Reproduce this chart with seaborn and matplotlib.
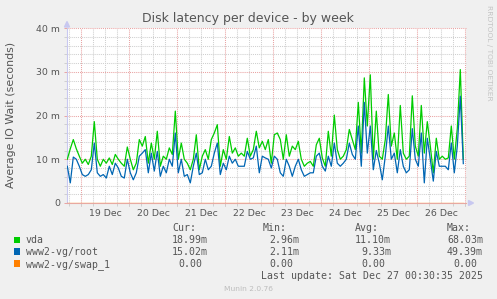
import numpy as np
import pandas as pd
import matplotlib
matplotlib.use("Agg")
import matplotlib.pyplot as plt
import matplotlib.dates as mdates
from matplotlib.patches import Rectangle, Polygon
import seaborn as sns

# ---------------- data ----------------
start = pd.Timestamp("2025-12-18 17:00")
end_view = pd.Timestamp("2025-12-27 00:30")

vda = [10.0, 12.4, 14.5, 12.4, 10.7, 9.1, 10.0, 8.8, 10.7, 18.6, 10.0, 8.4, 10.0, 9.1, 10.3, 8.8, 11.1, 10.0, 9.1,
       8.4, 12.8, 10.0, 7.6, 9.1, 14.5, 13.0, 15.2, 9.1, 13.7, 10.0, 16.4, 8.4, 10.7, 10.0, 12.6, 11.1, 21.0, 10.0,
       13.7, 10.0, 9.1, 7.6, 10.0, 15.6, 7.6, 10.7, 12.2, 10.0, 14.5, 16.0, 17.9, 8.4, 12.2, 10.0, 15.2, 11.4, 12.6, 10.7,
       11.4, 10.7, 14.8, 10.7, 12.2, 16.4, 12.6, 14.1, 12.2, 14.5, 9.1, 15.6, 16.0, 14.5, 10.0, 15.6, 10.7, 13.0, 12.2,
       14.1, 10.0, 8.4, 9.1, 9.5, 8.4, 13.3, 14.8, 10.3, 8.4, 16.4, 10.7, 20.1, 12.2, 10.0, 10.7, 12.2, 16.8, 14.5,
       12.2, 23.0, 11.4, 28.6, 17.6, 29.3, 10.0, 21.0, 10.7, 10.0, 14.5, 24.8, 13.0, 16.0, 10.0, 22.3, 11.4, 10.0, 10.7, 24.5,
       13.0, 10.7, 22.3, 11.4, 18.6, 13.0, 6.9, 14.8, 10.0, 10.7, 10.0, 10.3, 17.6, 10.0, 17.0, 30.5, 10.0]

root = [8.4, 4.6, 10.5, 10.0, 8.4, 6.5, 6.1, 6.5, 7.6, 13.7, 6.9, 6.1, 6.5, 5.7, 8.4, 6.5, 9.1, 8.0, 6.1,
        5.7, 10.0, 6.9, 5.3, 6.9, 10.7, 11.4, 12.2, 6.9, 11.4, 7.3, 11.8, 6.1, 8.4, 6.9, 10.0, 8.4, 16.0, 6.9,
        10.0, 6.1, 6.5, 4.6, 8.4, 11.4, 6.5, 6.9, 10.0, 7.6, 8.4, 11.4, 13.7, 6.5, 9.1, 7.6, 10.7, 9.1, 10.0, 8.4,
        8.4, 8.4, 11.8, 10.0, 10.3, 13.0, 6.9, 10.7, 10.3, 10.0, 8.0, 10.7, 10.0, 6.9, 6.1, 10.0, 8.4, 6.1, 8.4,
        10.0, 7.6, 6.1, 6.5, 6.9, 6.9, 10.7, 11.4, 8.4, 7.3, 10.7, 8.4, 13.7, 9.1, 8.4, 9.1, 10.0, 13.7, 11.1,
        10.0, 17.6, 8.4, 23.0, 11.4, 17.6, 7.6, 12.0, 9.1, 5.3, 10.7, 17.6, 10.0, 11.4, 6.9, 12.2, 8.4, 6.9, 7.6, 17.0,
        10.0, 8.4, 16.0, 4.6, 14.8, 10.0, 5.0, 11.8, 8.4, 8.4, 8.4, 7.6, 13.7, 6.9, 13.0, 24.4, 9.0]

swap = [0.0] * len(vda)

devices = ["vda", "www2-vg/root", "www2-vg/swap_1"]
colors = ["#00CC00", "#0066B3", "#FF8000"]
cur_vals = ["18.99m", "15.02m", "0.00"]
min_vals = ["2.96m", "2.11m", "0.00"]
avg_vals = ["11.10m", "9.33m", "0.00"]
max_vals = ["68.03m", "49.39m", "0.00"]

ytick_vals = [0, 10, 20, 30, 40]
ytick_labels = ["0", "10 m", "20 m", "30 m", "40 m"]
day_labels = ["19 Dec", "20 Dec", "21 Dec", "22 Dec", "23 Dec", "24 Dec", "25 Dec", "26 Dec"]

assert len(vda) == len(root)

times = pd.date_range(start, periods=len(vda), freq="90min")
df = pd.concat([
    pd.DataFrame({"time": times, "value": vals, "device": name})
    for name, vals in zip(devices, [vda, root, swap])
], ignore_index=True)

# ---------------- figure ----------------
W, H = 497, 299
def fx(x): return x / W
def fy(y): return 1 - y / H

BG = "#F0F0F0"
TXT = "#555555"
GRID = "#CFCFCF"
MGRID = "#E9A3A3"
AXIS = "#C8C8F0"

fig = plt.figure(figsize=(W / 100, H / 100), dpi=100, facecolor=BG)
ax = fig.add_axes([fx(67), fy(203), (466.3 - 67) / W, (203 - 28) / H])
ax.set_facecolor("white")

sns.lineplot(data=df, x="time", y="value", hue="device", hue_order=devices,
             palette=dict(zip(devices, colors)), estimator=None, linewidth=0.9,
             legend=False, ax=ax, zorder=3)

left_view = end_view - pd.Timedelta(days=(466.3 - 67) / 48.0)
ax.set_xlim(left_view, end_view)
ax.set_ylim(0, 40)

# grid
dots = (0, (1, 1))
grid_times = pd.date_range("2025-12-18 18:00", "2025-12-27 00:00", freq="6h")
for t in grid_times:
    c = MGRID if t.hour == 0 else GRID
    ax.axvline(t, color=c, lw=0.75, ls=dots, zorder=1)
for v in range(2, 41, 2):
    c = MGRID if v % 10 == 0 else GRID
    ax.axhline(v, color=c, lw=0.75, ls=dots, zorder=1, clip_on=False)

for s in ["top", "right"]:
    ax.spines[s].set_visible(False)
ax.spines["left"].set_color(AXIS)
ax.spines["left"].set_linewidth(0.8)
ax.spines["bottom"].set_color("#E8A8A0")
ax.spines["bottom"].set_linewidth(0.8)

ax.set_yticks(ytick_vals, labels=ytick_labels)
ax.set_yticks(list(range(2, 40, 2)), minor=True)
ax.tick_params(axis="y", which="major", length=2, width=0.7, color=MGRID,
               labelsize=6.75, labelcolor=TXT, pad=3)
ax.tick_params(axis="y", which="minor", length=2, width=0.7, color=GRID)

noons = pd.date_range("2025-12-19 12:00", periods=len(day_labels), freq="D")
ax.set_xticks(noons, labels=day_labels)
ax.set_xticks(grid_times, minor=True)
ax.tick_params(axis="x", which="major", length=0, labelsize=6.75, labelcolor=TXT, pad=4.5)
ax.tick_params(axis="x", which="minor", length=2, width=0.7, color=GRID)
ax.set_xlabel("")
ax.set_ylabel("")

# red ticks at midnights
sec = ax.secondary_xaxis("bottom")
midn = [mdates.date2num(t) for t in grid_times if t.hour == 0]
sec.set_xticks(midn)
sec.tick_params(length=2, width=0.7, color=MGRID, labelbottom=False)
for s in sec.spines.values():
    s.set_visible(False)

# axis arrows
fig.patches.append(Polygon([(fx(64.5), fy(27)), (fx(69.5), fy(27)), (fx(67), fy(21.5))],
                           closed=True, transform=fig.transFigure, color=AXIS, zorder=5))
fig.patches.append(Polygon([(fx(468.5), fy(200.5)), (fx(468.5), fy(205.5)), (fx(473.5), fy(203))],
                           closed=True, transform=fig.transFigure, color=AXIS, zorder=5))

# texts
fig.text(fx(248), fy(22.3), "Disk latency per device - by week", ha="center", va="baseline",
         fontsize=9, color=TXT)
fig.text(fx(11), fy(115), "Average IO Wait (seconds)", rotation=90, ha="center", va="center",
         fontsize=7.9, color=TXT)
fig.text(fx(488.5), fy(5), "RRDTOOL / TOBI OETIKER", rotation=270, ha="center", va="top",
         fontsize=5.4, color="#C4C4C4")

mono = dict(family="DejaVu Sans Mono", fontsize=7.1, color=TXT)
rows_y = [243.2, 255.0, 266.8]
head_y = 231.2
for hx, h in zip([172, 263, 355, 447], ["Cur:", "Min:", "Avg:", "Max:"]):
    fig.text(fx(hx), fy(head_y), h, ha="left", va="baseline", **mono)

col_right = [208, 299, 391, 483]
for i, (name, col) in enumerate(zip(devices, colors)):
    y = rows_y[i]
    fig.patches.append(Rectangle((fx(14), fy(y - 0.3)), 6.3 / W, 6.3 / H,
                                 transform=fig.transFigure, facecolor=col, edgecolor="none"))
    fig.text(fx(26), fy(y), name, ha="left", va="baseline", **mono)
    for R, vals in zip(col_right, [cur_vals, min_vals, avg_vals, max_vals]):
        s = vals[i]
        xr = R if s.endswith("m") else R - 6
        fig.text(fx(xr), fy(y), s, ha="right", va="baseline", **mono)

fig.text(fx(483), fy(279), "Last update: Sat Dec 27 00:30:35 2025", ha="right", va="baseline", **mono)
fig.text(fx(248), fy(291.3), "Munin 2.0.76", ha="center", va="baseline", fontsize=5.4, color="#BDBDBD")

fig.savefig("out.png", dpi=100, facecolor=BG)
